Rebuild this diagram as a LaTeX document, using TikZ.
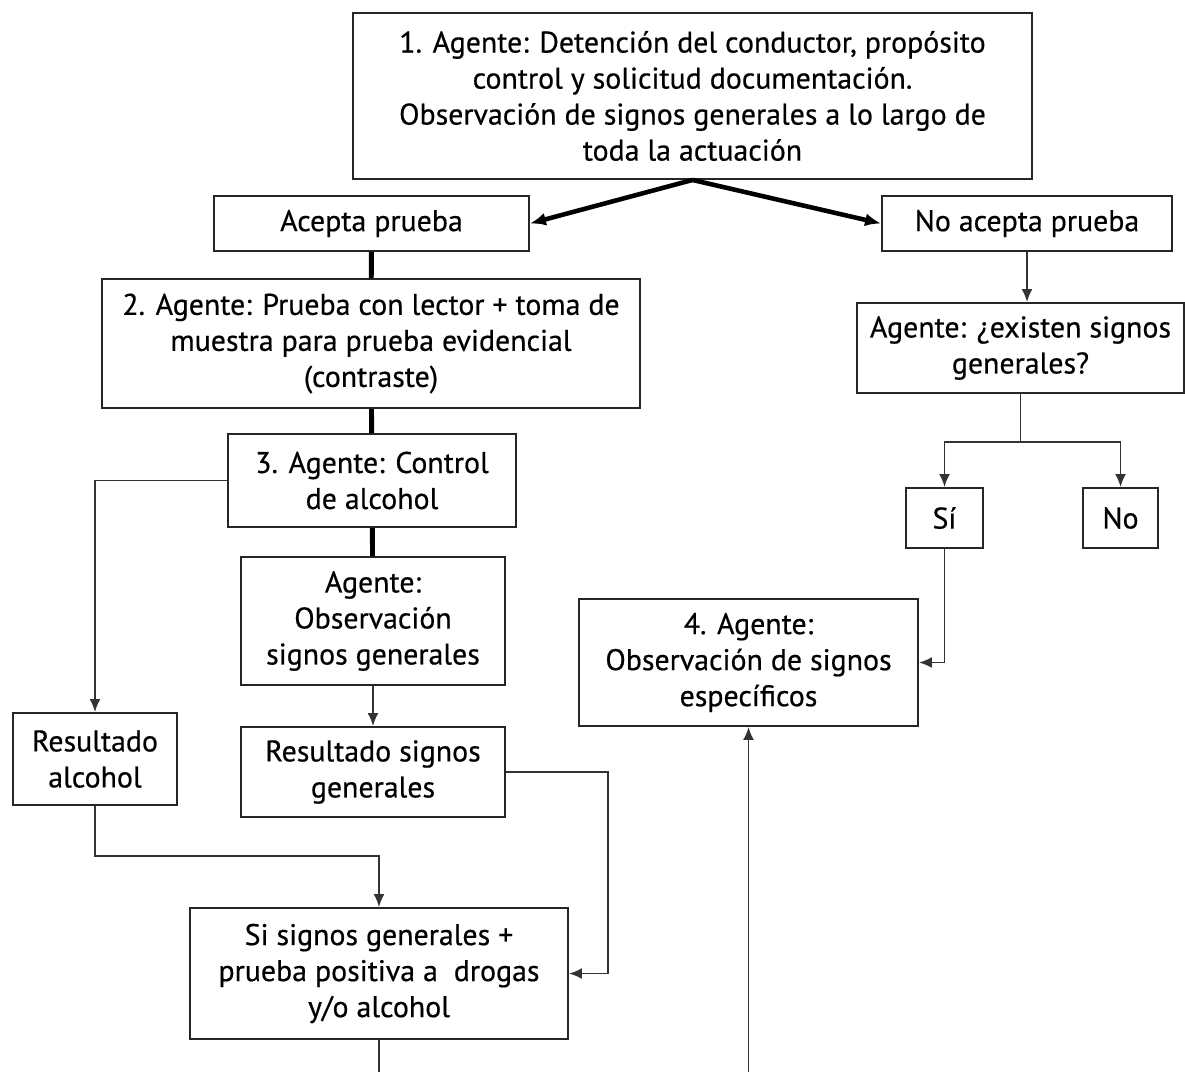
\documentclass[tikz,border=0pt]{standalone}
\usepackage{fontspec}
\setmainfont{PT Sans}[FakeBold=0.5]
\usepackage{tikz}
\usetikzlibrary{arrows.meta,positioning,calc}
\tikzset{
  box/.style={draw=black!85, line width=1.1pt, align=center, inner sep=2pt, font=\fontsize{17}{20.5}\selectfont},
  thickline/.style={line width=2.8pt, black},
  thickarrow/.style={-{Latex[length=3.2mm,width=2.6mm]}, line width=2.6pt, black},
  thinarrow/.style={-{Latex[length=2.6mm,width=2.2mm]}, line width=1.1pt, black!80},
  thinline/.style={line width=1.1pt, black!80}
}

\begin{document}
\begin{tikzpicture}[x=0.02cm, y=-0.02cm]
\useasboundingbox (0,0) rectangle (1185,1072);
\node[box, minimum width=13.58cm, minimum height=3.32cm] (top) at (692.5,96) {1. Agente: Detención del conductor, propósito\\control y solicitud documentación.\\Observación de signos generales a lo largo de\\toda la actuación};
\node[box, minimum width=6.3cm, minimum height=1.1cm] (acepta) at (371.5,223.5) {Acepta prueba};
\node[box, minimum width=5.8cm, minimum height=1.1cm] (noacepta) at (1027,223.5) {No acepta prueba};
\node[box, minimum width=10.76cm, minimum height=2.58cm] (lector) at (371,343.5) {2. Agente: Prueba con lector + toma de\\muestra para prueba evidencial\\(contraste)};
\node[box, minimum width=6.54cm, minimum height=1.8cm] (existen) at (1020.5,348) {Agente: ¿existen signos\\generales?};
\node[box, minimum width=5.76cm, minimum height=1.86cm] (control) at (372,480.5) {3. Agente: Control\\de alcohol};
\node[box, minimum width=1.54cm, minimum height=1.2cm] (si) at (944.5,518) {Sí};
\node[box, minimum width=1.5cm, minimum height=1.2cm] (no) at (1120.5,518) {No};
\node[box, minimum width=5.28cm, minimum height=2.56cm] (obsgen) at (373,621) {Agente:\\Observación\\signos generales};
\node[box, minimum width=6.78cm, minimum height=2.54cm] (obsesp) at (748.5,662.5) {4. Agente:\\Observación de signos\\específicos};
\node[box, minimum width=3.28cm, minimum height=1.84cm] (resalc) at (95,759) {Resultado\\alcohol};
\node[box, minimum width=5.28cm, minimum height=1.8cm] (ressig) at (373,772) {Resultado signos\\generales};
\node[box, minimum width=7.56cm, minimum height=2.62cm] (final) at (379,973.5) {Si signos generales +\\prueba positiva a\ \ drogas\\y/o alcohol};
\coordinate (finout) at (379,1072);
\coordinate (espin) at (748.5,1072);
\coordinate (fork) at (1020.5,442);

% tronco principal
\draw[thickarrow] (top.south) -- (acepta.east);
\draw[thickarrow] (top.south) -- (noacepta.west);
\draw[thickline] (acepta) -- (lector);
\draw[thickline] (lector) -- (control);
\draw[thickline] (control) -- (obsgen);

% ramas de resultados
\draw[thinarrow] (control.west) -| (resalc.north);
\draw[thinarrow] (obsgen) -- (ressig);
\draw[thinarrow] (resalc.south) -- ++(0,50) -| (final.north);
\draw[thinarrow] (ressig.east) -- ++(102,0) |- (final.east);
\draw[thinline] (final.south) -- (finout);
\draw[thinarrow] (espin) -- (obsesp.south);

% rama sin prueba
\draw[thinarrow] (noacepta.south) -- (noacepta.south |- existen.north);
\draw[thinline] (existen.south) -- (fork);
\draw[thinarrow] (fork) -| (si.north);
\draw[thinarrow] (fork) -| (no.north);
\draw[thinarrow] (si.south) |- (obsesp.east);
\end{tikzpicture}
\end{document}
